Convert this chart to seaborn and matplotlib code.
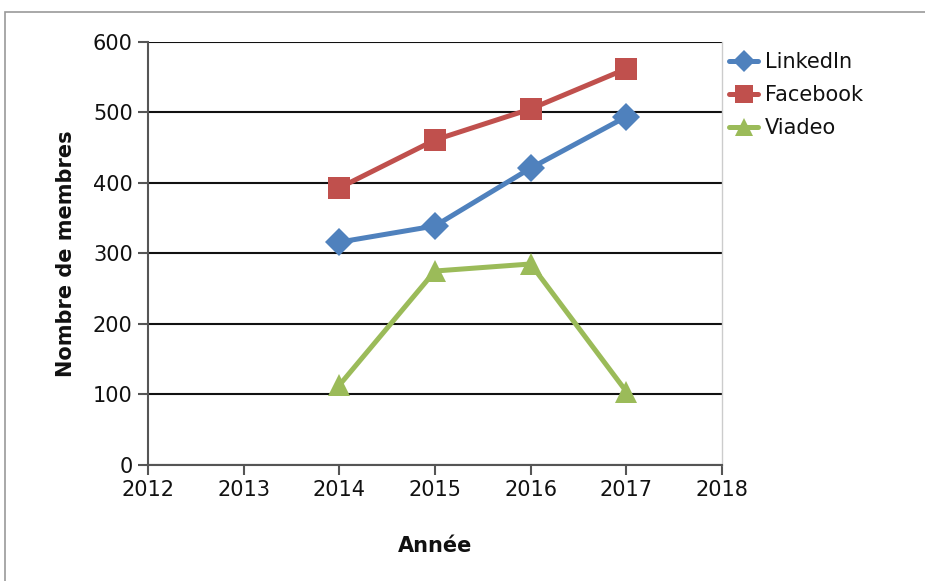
import matplotlib
matplotlib.use("Agg")
import matplotlib.pyplot as plt
import matplotlib.patches as patches
import pandas as pd
import seaborn as sns

years = [2014, 2015, 2016, 2017]
linkedin = [316, 339, 421, 494]
facebook = [393, 461, 505, 562]
viadeo = [113, 275, 285, 104]
series_names = ["LinkedIn", "Facebook", "Viadeo"]
colors = ["#4F81BD", "#C0504D", "#9BBB59"]
markers = ["D", "s", "^"]
marker_sizes = [14, 16, 16]

df = pd.DataFrame({
    "Année": years * 3,
    "Nombre de membres": linkedin + facebook + viadeo,
    "Réseau": [n for n in series_names for _ in years],
})

sns.set_theme(style="white")
plt.rcParams["font.family"] = ["DejaVu Sans"]

fig = plt.figure(figsize=(9.25, 5.81), dpi=100)
ax = fig.add_axes([0.16, 0.2, 0.6205, 0.7277])

sns.lineplot(
    data=df, x="Année", y="Nombre de membres", hue="Réseau", style="Réseau",
    palette=colors, markers=markers, dashes=False, lw=3.6, markersize=14,
    markeredgewidth=0, ax=ax, legend=False,
)
for line, ms in zip(ax.lines, marker_sizes):
    line.set_markersize(ms)

ax.set_xlim(2012, 2018)
ax.set_ylim(0, 600)
ax.set_xticks(range(2012, 2019))
ax.set_yticks(range(0, 601, 100))
ax.yaxis.grid(True, color="#111111", lw=1.5)
ax.xaxis.grid(False)
ax.set_axisbelow(True)

for side in ["left", "bottom"]:
    ax.spines[side].set_color("#555555")
    ax.spines[side].set_linewidth(1.5)
ax.spines["right"].set_color("#cccccc")
ax.spines["right"].set_linewidth(1)
ax.spines["top"].set_visible(False)

ax.tick_params(axis="both", direction="out", length=7, width=1.5, color="#555555",
               labelsize=15, labelcolor="#111111", left=True, bottom=True, pad=4)
ax.set_xlabel("Année", fontsize=15, fontweight="bold", labelpad=26, color="#111111")
ax.set_ylabel("Nombre de membres", fontsize=15, fontweight="bold", labelpad=12,
              color="#111111")

handles = [
    plt.Line2D([], [], color=c, marker=m, lw=3.6, markersize=ms * 0.8, markeredgewidth=0)
    for c, m, ms in zip(colors, markers, marker_sizes)
]
leg = ax.legend(handles, series_names, loc="upper left", bbox_to_anchor=(0.998, 0.995),
                frameon=False, fontsize=15, handlelength=1.4, handletextpad=0.3,
                labelspacing=0.62, borderaxespad=0)
for t in leg.get_texts():
    t.set_color("#111111")

fig.patches.append(patches.Rectangle(
    (5 / 925, -0.01), 1.0, 1 - 12 / 581 + 0.01, transform=fig.transFigure,
    fill=False, edgecolor="#999999", lw=1.2))

fig.savefig("out.png", dpi=100)
